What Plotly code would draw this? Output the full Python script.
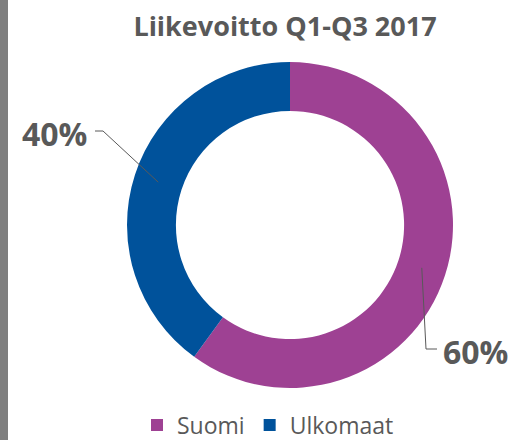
import math
import plotly.graph_objects as go

labels = ["Suomi", "Ulkomaat"]
values = [60, 40]
colors = ["#9E4193", "#00529B"]
title_text = "Liikevoitto Q1-Q3 2017"

W, H = 514, 440
cx, cy, R_out, hole = 290, 225, 163, 0.70

def px(x):
    return x / W

def py(y):
    return 1 - y / H

fig = go.Figure(go.Pie(
    labels=labels, values=values, hole=hole, sort=False, direction="clockwise",
    marker=dict(colors=colors, line=dict(width=0)),
    textinfo="none", hoverinfo="label+percent",
    domain=dict(x=[px(cx - R_out), px(cx + R_out)], y=[py(cy + R_out), py(cy - R_out)]),
))

# ring mid-points of each slice computed from the data
total = sum(values)
r_mid = R_out * (1 + hole) / 2
start = 0.0
mids = []
for v in values:
    a = (start + v / 2) / total * 2 * math.pi
    mids.append((cx + r_mid * math.sin(a), cy - r_mid * math.cos(a)))
    start += v

line_style = dict(color="#595959", width=1)
# Suomi leader (lower right)
sx, sy = mids[0]
fig.add_shape(type="path", xref="paper", yref="paper", line=line_style,
              path=f"M {px(sx)},{py(sy)} L {px(426)},{py(349)} L {px(437)},{py(349)}")
# Ulkomaat leader (upper left)
ux, uy = mids[1]
fig.add_shape(type="path", xref="paper", yref="paper", line=line_style,
              path=f"M {px(ux)},{py(uy)} L {px(103)},{py(131)} L {px(95)},{py(131)}")

pcts = [f"{round(v / total * 100)}%" for v in values]
lab_font = dict(family="Open Sans", size=32, color="#595959", weight="bold")
fig.add_annotation(x=px(441), y=py(351), xref="paper", yref="paper", text=pcts[0],
                   showarrow=False, xanchor="left", yanchor="middle", font=lab_font)
fig.add_annotation(x=px(89), y=py(133), xref="paper", yref="paper", text=pcts[1],
                   showarrow=False, xanchor="right", yanchor="middle", font=lab_font)

# left grey bar
fig.add_shape(type="rect", xref="paper", yref="paper", x0=0, x1=px(8), y0=0, y1=1,
              fillcolor="#7F7F7F", line=dict(width=0), layer="below")

fig.update_layout(
    width=W, height=H, margin=dict(l=0, r=0, t=0, b=0, autoexpand=False),
    paper_bgcolor="white", plot_bgcolor="white",
    title=dict(text=title_text, x=px(285), xanchor="center", y=py(27), yanchor="middle",
               font=dict(family="Open Sans", size=27, color="#595959", weight="bold")),
    legend=dict(orientation="h", x=px(268), xanchor="center", y=py(425), yanchor="middle",
                font=dict(family="Open Sans", size=23, color="#595959"),
                itemsizing="constant", traceorder="normal"),
    showlegend=True,
)

fig.write_html("out.html", config={"displayModeBar": False},
               post_script="document.body.style.margin='0px';")
